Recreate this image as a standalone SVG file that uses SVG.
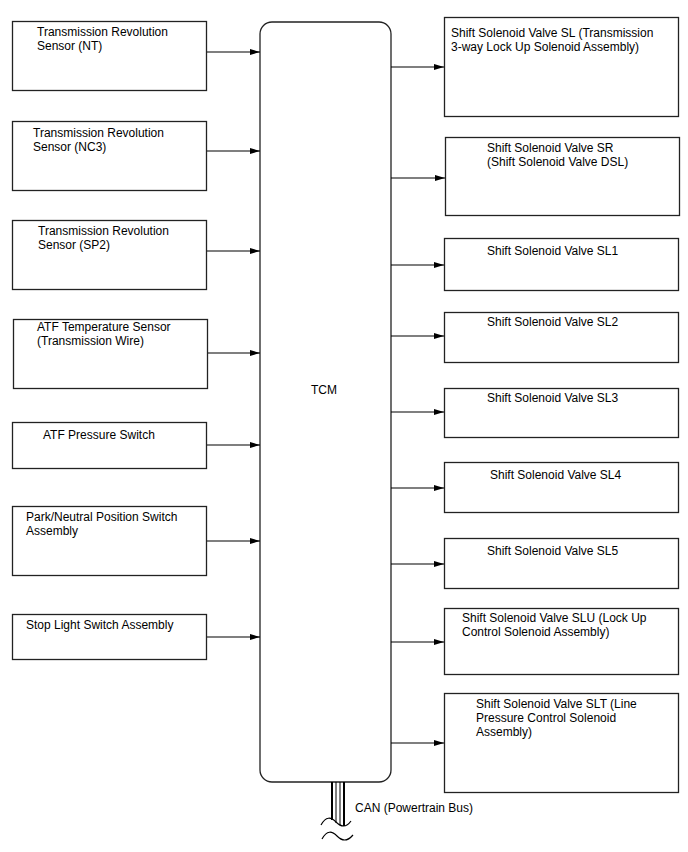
<svg xmlns="http://www.w3.org/2000/svg" width="688" height="852" viewBox="0 0 688 852">
<defs>
<marker id="arr" viewBox="0 0 10 6" refX="10" refY="3" markerWidth="10" markerHeight="6" markerUnits="userSpaceOnUse" orient="auto">
<path d="M0,0 L10,3 L0,6 z" fill="#000"/>
</marker>
<style>
.box{fill:#fff;stroke:#222;stroke-width:1.3}
.t{font-family:"Liberation Sans",Arial,sans-serif;font-size:12px;fill:#000}
.c{stroke:#000;stroke-width:1.2;fill:none;marker-end:url(#arr)}
</style>
</defs>
<rect width="688" height="852" fill="#fff"/>
<g id="tcm"><rect class="box" x="260" y="22" width="131" height="760" rx="12"/><text class="t" x="324" y="394" text-anchor="middle">TCM</text></g>
<g id="in1"><rect class="box" x="12.5" y="21.5" width="194" height="69"/><text class="t" x="37" y="36">Transmission Revolution</text><text class="t" x="37" y="50">Sensor (NT)</text></g>
<g id="in2"><rect class="box" x="12.5" y="121.5" width="194" height="69"/><text class="t" x="33" y="137">Transmission Revolution</text><text class="t" x="33" y="151">Sensor (NC3)</text></g>
<g id="in3"><rect class="box" x="12.5" y="220.5" width="194" height="69"/><text class="t" x="38" y="235">Transmission Revolution</text><text class="t" x="38" y="249">Sensor (SP2)</text></g>
<g id="in4"><rect class="box" x="13.5" y="319.5" width="194" height="69"/><text class="t" x="37" y="331">ATF Temperature Sensor</text><text class="t" x="37" y="345">(Transmission Wire)</text></g>
<g id="in5"><rect class="box" x="12.5" y="422.5" width="194" height="46"/><text class="t" x="43" y="439">ATF Pressure Switch</text></g>
<g id="in6"><rect class="box" x="12.5" y="506.5" width="194" height="69"/><text class="t" x="26" y="521">Park/Neutral Position Switch</text><text class="t" x="26" y="535">Assembly</text></g>
<g id="in7"><rect class="box" x="12.5" y="614.5" width="194" height="45"/><text class="t" x="26" y="629">Stop Light Switch Assembly</text></g>
<g id="out1"><rect class="box" x="444.5" y="17.5" width="234" height="99"/><text class="t" x="451" y="37">Shift Solenoid Valve SL (Transmission</text><text class="t" x="451" y="51">3-way Lock Up Solenoid Assembly)</text></g>
<g id="out2"><rect class="box" x="445.5" y="137.5" width="234" height="78"/><text class="t" x="487" y="152">Shift Solenoid Valve SR</text><text class="t" x="487" y="166">(Shift Solenoid Valve DSL)</text></g>
<g id="out3"><rect class="box" x="444.5" y="238.5" width="234" height="52"/><text class="t" x="487" y="255">Shift Solenoid Valve SL1</text></g>
<g id="out4"><rect class="box" x="444.5" y="312.5" width="234" height="50"/><text class="t" x="487" y="326">Shift Solenoid Valve SL2</text></g>
<g id="out5"><rect class="box" x="444.5" y="388.5" width="234" height="49"/><text class="t" x="487" y="402">Shift Solenoid Valve SL3</text></g>
<g id="out6"><rect class="box" x="444.5" y="462.5" width="234" height="50"/><text class="t" x="490" y="479">Shift Solenoid Valve SL4</text></g>
<g id="out7"><rect class="box" x="444.5" y="538.5" width="234" height="50"/><text class="t" x="487" y="555">Shift Solenoid Valve SL5</text></g>
<g id="out8"><rect class="box" x="444.5" y="608.5" width="234" height="66"/><text class="t" x="462" y="622">Shift Solenoid Valve SLU (Lock Up</text><text class="t" x="462" y="636">Control Solenoid Assembly)</text></g>
<g id="out9"><rect class="box" x="444.5" y="693.5" width="234" height="99"/><text class="t" x="476" y="708">Shift Solenoid Valve SLT (Line</text><text class="t" x="476" y="722">Pressure Control Solenoid</text><text class="t" x="476" y="736">Assembly)</text></g>
<g id="connectors">
<line class="c" x1="207" y1="52" x2="260" y2="52"/>
<line class="c" x1="207" y1="151" x2="260" y2="151"/>
<line class="c" x1="207" y1="251" x2="260" y2="251"/>
<line class="c" x1="208" y1="353" x2="260" y2="353"/>
<line class="c" x1="207" y1="445" x2="260" y2="445"/>
<line class="c" x1="207" y1="541" x2="260" y2="541"/>
<line class="c" x1="207" y1="637" x2="260" y2="637"/>
<line class="c" x1="391" y1="67" x2="444" y2="67"/>
<line class="c" x1="391" y1="178" x2="445" y2="178"/>
<line class="c" x1="391" y1="265" x2="444" y2="265"/>
<line class="c" x1="391" y1="336" x2="444" y2="336"/>
<line class="c" x1="391" y1="412" x2="444" y2="412"/>
<line class="c" x1="391" y1="488" x2="444" y2="488"/>
<line class="c" x1="391" y1="564" x2="444" y2="564"/>
<line class="c" x1="391" y1="642" x2="444" y2="642"/>
<line class="c" x1="391" y1="743" x2="444" y2="743"/>
</g>
<g id="can">
<line x1="332" y1="782" x2="332" y2="820" stroke="#000" stroke-width="2"/>
<line x1="336" y1="782" x2="336" y2="823" stroke="#000" stroke-width="1"/>
<line x1="340" y1="782" x2="340" y2="825" stroke="#000" stroke-width="1"/>
<line x1="344" y1="782" x2="344" y2="826" stroke="#000" stroke-width="2"/>
<path d="M321,825 C326,816 331,817 336,822 C341,827 346,828 351,821" fill="none" stroke="#000" stroke-width="1.2"/>
<path d="M322,839 C327,830 332,831 337,836 C342,841 347,842 353,835" fill="none" stroke="#000" stroke-width="1.2"/>
<text class="t" x="355" y="812">CAN (Powertrain Bus)</text>
</g>
</svg>
